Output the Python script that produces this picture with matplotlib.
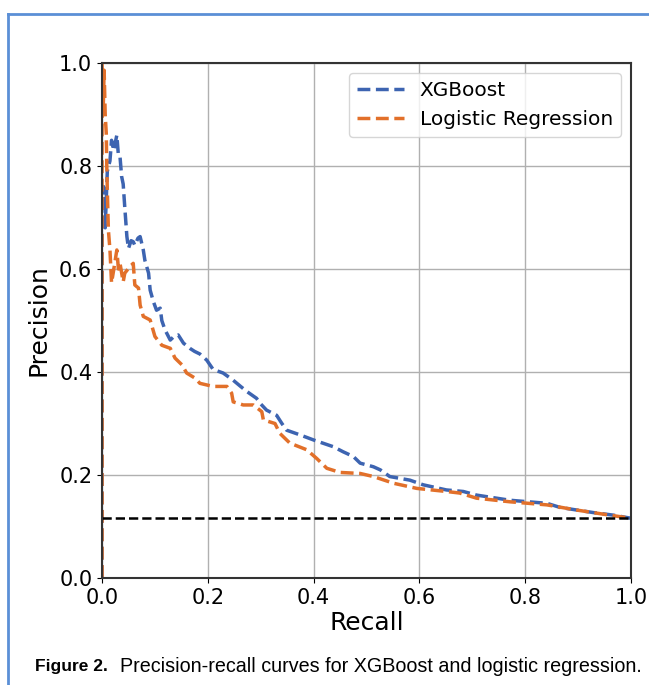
import numpy as np
import matplotlib
matplotlib.use("Agg")
import matplotlib.pyplot as plt
from matplotlib.lines import Line2D

# ── Data ──────────────────────────────────────────────────────────────────────
xgb_recall = [0.000, 0.000, 0.003, 0.006, 0.006, 0.010, 0.015, 0.018, 0.022,
              0.028, 0.031, 0.034, 0.037, 0.040, 0.043, 0.047, 0.050, 0.055,
              0.059, 0.062, 0.068, 0.072, 0.078, 0.081, 0.088, 0.091, 0.097,
              0.103, 0.110, 0.113, 0.119, 0.129, 0.137, 0.144, 0.154, 0.166,
              0.175, 0.185, 0.198, 0.210, 0.229, 0.248, 0.262, 0.274, 0.292,
              0.300, 0.311, 0.330, 0.340, 0.349, 0.374, 0.400, 0.437, 0.456,
              0.475, 0.488, 0.513, 0.526, 0.544, 0.582, 0.607, 0.651, 0.683,
              0.708, 0.771, 0.841, 0.866, 0.929, 0.967, 1.000]
xgb_prec = [0.000, 0.700, 0.760, 0.740, 0.680, 0.790, 0.810, 0.850, 0.830,
            0.860, 0.820, 0.818, 0.780, 0.765, 0.720, 0.663, 0.640, 0.655,
            0.653, 0.646, 0.660, 0.663, 0.637, 0.617, 0.592, 0.559, 0.537,
            0.520, 0.524, 0.500, 0.482, 0.462, 0.470, 0.472, 0.456, 0.446,
            0.440, 0.435, 0.423, 0.405, 0.398, 0.384, 0.372, 0.362, 0.349,
            0.338, 0.326, 0.316, 0.300, 0.287, 0.278, 0.268, 0.255, 0.245,
            0.236, 0.223, 0.216, 0.210, 0.197, 0.190, 0.181, 0.171, 0.168,
            0.161, 0.151, 0.145, 0.137, 0.127, 0.122, 0.116]

lr_recall = [0.000, 0.000, 0.002, 0.004, 0.006, 0.008, 0.009, 0.010, 0.012,
             0.015, 0.018, 0.022, 0.028, 0.031, 0.034, 0.040, 0.043, 0.053,
             0.059, 0.062, 0.069, 0.072, 0.078, 0.091, 0.100, 0.113, 0.129,
             0.138, 0.151, 0.160, 0.176, 0.185, 0.210, 0.236, 0.245, 0.248,
             0.267, 0.286, 0.302, 0.305, 0.327, 0.336, 0.355, 0.387, 0.406,
             0.425, 0.450, 0.488, 0.513, 0.551, 0.595, 0.651, 0.676, 0.708,
             0.771, 0.841, 0.897, 0.960, 1.000]
lr_prec = [0.000, 1.000, 0.900, 0.986, 0.900, 0.864, 0.800, 0.753, 0.676,
           0.637, 0.573, 0.598, 0.637, 0.600, 0.611, 0.575, 0.592, 0.605,
           0.611, 0.569, 0.563, 0.530, 0.508, 0.501, 0.469, 0.452, 0.446,
           0.427, 0.414, 0.398, 0.388, 0.378, 0.372, 0.372, 0.359, 0.342,
           0.336, 0.336, 0.323, 0.307, 0.300, 0.281, 0.262, 0.249, 0.232,
           0.213, 0.205, 0.203, 0.197, 0.184, 0.174, 0.168, 0.165, 0.155,
           0.148, 0.142, 0.132, 0.122, 0.116]

baseline = 0.116
ticks = [0.0, 0.2, 0.4, 0.6, 0.8, 1.0]

BLUE = "#3d64b1"
ORANGE = "#e2702a"

# ── Figure ────────────────────────────────────────────────────────────────────
fig = plt.figure(figsize=(6.49, 6.85), dpi=100, facecolor="white")
ax = fig.add_axes([0.1572, 0.1562, 0.8151, 0.7518])

ax.plot(xgb_recall, xgb_prec, color=BLUE, lw=2.5, ls="--", label="XGBoost")
ax.plot(lr_recall, lr_prec, color=ORANGE, lw=2.5, ls="--",
        label="Logistic Regression")
ax.plot([0, 1], [baseline, baseline], color="black", lw=1.8, ls="--")

ax.set_xlim(0, 1)
ax.set_ylim(0, 1)
ax.set_xticks(ticks)
ax.set_yticks(ticks)
ax.tick_params(labelsize=15)
ax.set_xlabel("Recall", fontsize=18, labelpad=2)
ax.set_ylabel("Precision", fontsize=18, labelpad=6)
ax.grid(True, color="#b0b0b0", lw=1.0)
for s in ax.spines.values():
    s.set_color("#333333")
    s.set_linewidth(1.5)
ax.legend(loc="upper right", fontsize=14.5, borderaxespad=0.5,
          handlelength=2.3)

# journal frame + caption
fig.add_artist(Line2D([8 / 649, 8 / 649], [0, 1 - 14 / 685],
                      transform=fig.transFigure, color="#5b8fd6", lw=2))
fig.add_artist(Line2D([8 / 649, 1], [1 - 14 / 685, 1 - 14 / 685],
                      transform=fig.transFigure, color="#5b8fd6", lw=2))
fig.text(35 / 649, 1 - 667 / 685, "Figure 2.", fontsize=12.5,
         fontweight="bold", family=["Liberation Sans", "DejaVu Sans"],
         va="center")
fig.text(120 / 649, 1 - 667 / 685,
         "Precision-recall curves for XGBoost and logistic regression.",
         fontsize=14.2, family=["Liberation Sans", "DejaVu Sans"],
         va="center")

fig.savefig("out.png", dpi=100, facecolor="white")
